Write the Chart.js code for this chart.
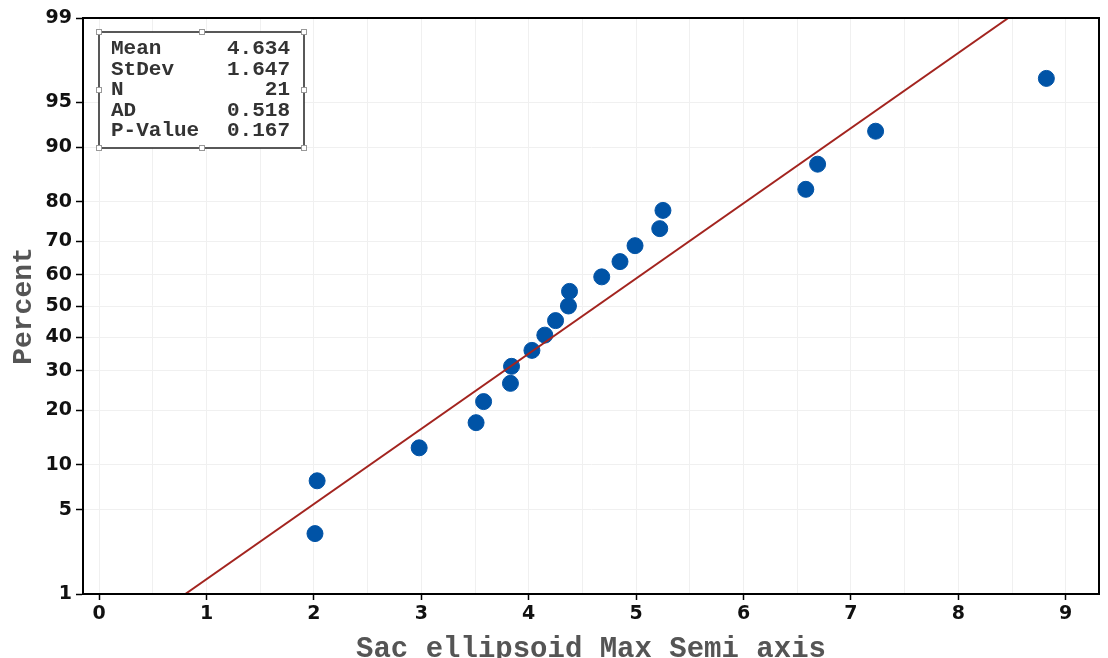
<!DOCTYPE html>
<html>
<head>
<meta charset="utf-8">
<title>Probability Plot</title>
<script src="https://cdn.jsdelivr.net/npm/chart.js@4"></script>
<style>
  html, body { margin: 0; padding: 0; background: #fff; }
  canvas { display: block; }
</style>
</head>
<body>
<canvas id="probChart" width="1108" height="658"></canvas>
<script>
// Sorted observations and their plotted percents (median ranks)
const semiAxis = [2.01, 2.03, 2.98, 3.51, 3.58, 3.83, 3.84, 4.03, 4.15, 4.25, 4.37,
                  4.38, 4.68, 4.85, 4.99, 5.22, 5.25, 6.58, 6.69, 7.23, 8.82];
const percents = [3.3, 7.9, 12.6, 17.3, 22.0, 26.6, 31.3, 36.0, 40.7, 45.3, 50.0,
                  54.7, 59.3, 64.0, 68.7, 73.4, 78.0, 82.7, 87.4, 92.1, 96.7];

// Summary table
const statNames = ['Mean', 'StDev', 'N', 'AD', 'P-Value'];
const statValues = ['4.634', '1.647', '21', '0.518', '0.167'];
const mean = 4.634;
const stdev = 1.647;

// Axis ticks
const percentTicks = [1, 5, 10, 20, 30, 40, 50, 60, 70, 80, 90, 95, 99];
const xTicks = [0, 1, 2, 3, 4, 5, 6, 7, 8, 9];
const fitPercents = [1, 99];

// inverse normal cdf (Acklam)
function probit(p) {
  const a = [-3.969683028665376e+01, 2.209460984245205e+02, -2.759285104469687e+02, 1.383577518672690e+02, -3.066479806614716e+01, 2.506628277459239e+00];
  const b = [-5.447609879822406e+01, 1.615858368580409e+02, -1.556989798598866e+02, 6.680131188771972e+01, -1.328068155288572e+01];
  const c = [-7.784894002430293e-03, -3.223964580411365e-01, -2.400758277161838e+00, -2.549671010229528e+00, 4.374664141464968e+00, 2.938163982698783e+00];
  const d = [7.784695709041462e-03, 3.224671290700398e-01, 2.445134137142996e+00, 3.754408661907416e+00];
  const lo = 0.02425;
  if (p < lo) {
    const q = Math.sqrt(-2 * Math.log(p));
    return (((((c[0]*q+c[1])*q+c[2])*q+c[3])*q+c[4])*q+c[5]) / ((((d[0]*q+d[1])*q+d[2])*q+d[3])*q+1);
  }
  if (p <= 1 - lo) {
    const q = p - 0.5, r = q * q;
    return (((((a[0]*r+a[1])*r+a[2])*r+a[3])*r+a[4])*r+a[5])*q / (((((b[0]*r+b[1])*r+b[2])*r+b[3])*r+b[4])*r+1);
  }
  const q = Math.sqrt(-2 * Math.log(1 - p));
  return -(((((c[0]*q+c[1])*q+c[2])*q+c[3])*q+c[4])*q+c[5]) / ((((d[0]*q+d[1])*q+d[2])*q+d[3])*q+1);
}

const points = semiAxis.map((x, i) => ({ x: x, y: probit(percents[i] / 100) }));
const fitLine = fitPercents.map(p => {
  const z = probit(p / 100);
  return { x: mean + stdev * z, y: z };
});

const monoBold = '"Liberation Mono", "Courier New", monospace';
const tickFont = { family: '"DejaVu Sans", Verdana, sans-serif', size: 19, weight: 'bold' };

// frame round the plot area + stats box with selection handles
const framePlugin = {
  id: 'frame',
  afterDraw(chart) {
    const { ctx, chartArea: a } = chart;
    ctx.save();
    ctx.strokeStyle = '#000';
    ctx.lineWidth = 2;
    ctx.strokeRect(a.left, a.top, a.right - a.left, a.bottom - a.top);

    const bx = a.left + 16, by = a.top + 14, bw = 205, bh = 116;
    ctx.fillStyle = '#fff';
    ctx.fillRect(bx, by, bw, bh);
    ctx.strokeStyle = '#222';
    ctx.lineWidth = 1.5;
    ctx.strokeRect(bx, by, bw, bh);

    ctx.font = 'bold 21px ' + monoBold;
    ctx.fillStyle = '#333';
    ctx.textBaseline = 'middle';
    statNames.forEach((name, i) => {
      const y = by + 17 + i * 20.5;
      ctx.textAlign = 'left';
      ctx.fillText(name, bx + 12, y);
      ctx.textAlign = 'right';
      ctx.fillText(statValues[i], bx + bw - 14, y);
    });

    const handles = [[0, 0], [0.5, 0], [1, 0], [0, 0.5], [1, 0.5], [0, 1], [0.5, 1], [1, 1]];
    ctx.lineWidth = 1;
    ctx.strokeStyle = '#999';
    ctx.fillStyle = '#fff';
    handles.forEach(([hx, hy]) => {
      const cx = Math.round(bx + hx * bw), cy = Math.round(by + hy * bh);
      ctx.fillRect(cx - 3, cy - 3, 6, 6);
      ctx.strokeRect(cx - 2.5, cy - 2.5, 5, 5);
    });
    ctx.restore();
  }
};

new Chart(document.getElementById('probChart'), {
  type: 'scatter',
  data: {
    datasets: [
      {
        label: 'Fit',
        type: 'line',
        data: fitLine,
        borderColor: '#a3241f',
        borderWidth: 2,
        pointRadius: 0,
        fill: false
      },
      {
        label: 'Data',
        data: points,
        backgroundColor: '#0053a6',
        borderColor: '#0053a6',
        pointRadius: 8,
        pointHoverRadius: 8
      }
    ]
  },
  options: {
    responsive: false,
    animation: false,
    devicePixelRatio: 1,
    layout: { padding: { top: 18, right: 7, left: 0, bottom: 0 } },
    plugins: {
      legend: { display: false },
      tooltip: { enabled: false }
    },
    scales: {
      x: {
        type: 'linear',
        min: -0.15,
        max: 9.31,
        afterBuildTicks(axis) {
          const ticks = [];
          for (let v = 0; v <= 9.01; v += 0.5) ticks.push({ value: v });
          axis.ticks = ticks;
        },
        afterFit(axis) { axis.height = 64; },
        ticks: {
          color: '#111',
          font: tickFont,
          padding: 3,
          maxRotation: 0,
          autoSkip: false,
          callback: v => xTicks.includes(v) ? String(v) : ''
        },
        grid: {
          color: '#f0f0f0',
          lineWidth: 1,
          tickLength: 6,
          tickColor: c => xTicks.includes(c.tick && c.tick.value) ? '#000' : 'rgba(0,0,0,0)',
          tickWidth: 1.5
        },
        border: { color: '#000', width: 2 },
        title: {
          display: true,
          text: 'Sac ellipsoid Max Semi axis',
          color: '#555',
          font: { family: monoBold, size: 29, weight: 'bold', lineHeight: 0.55 },
          padding: { top: 0, bottom: 0 }
        }
      },
      y: {
        type: 'linear',
        min: probit(0.01),
        max: probit(0.99),
        afterBuildTicks(axis) {
          axis.ticks = percentTicks.map(p => ({ value: probit(p / 100) }));
        },
        afterFit(axis) { axis.width = 83; },
        ticks: {
          color: '#111',
          font: tickFont,
          padding: 4,
          autoSkip: false,
          callback: (v, i) => String(percentTicks[i])
        },
        grid: {
          color: '#f0f0f0',
          lineWidth: 1,
          tickLength: 7,
          tickColor: '#000',
          tickWidth: 1.5
        },
        border: { color: '#000', width: 2 },
        title: {
          display: true,
          text: 'Percent',
          color: '#555',
          font: { family: monoBold, size: 28, weight: 'bold', lineHeight: 1 },
          padding: { top: 10, bottom: 0 }
        }
      }
    }
  },
  plugins: [framePlugin]
});
</script>
</body>
</html>
